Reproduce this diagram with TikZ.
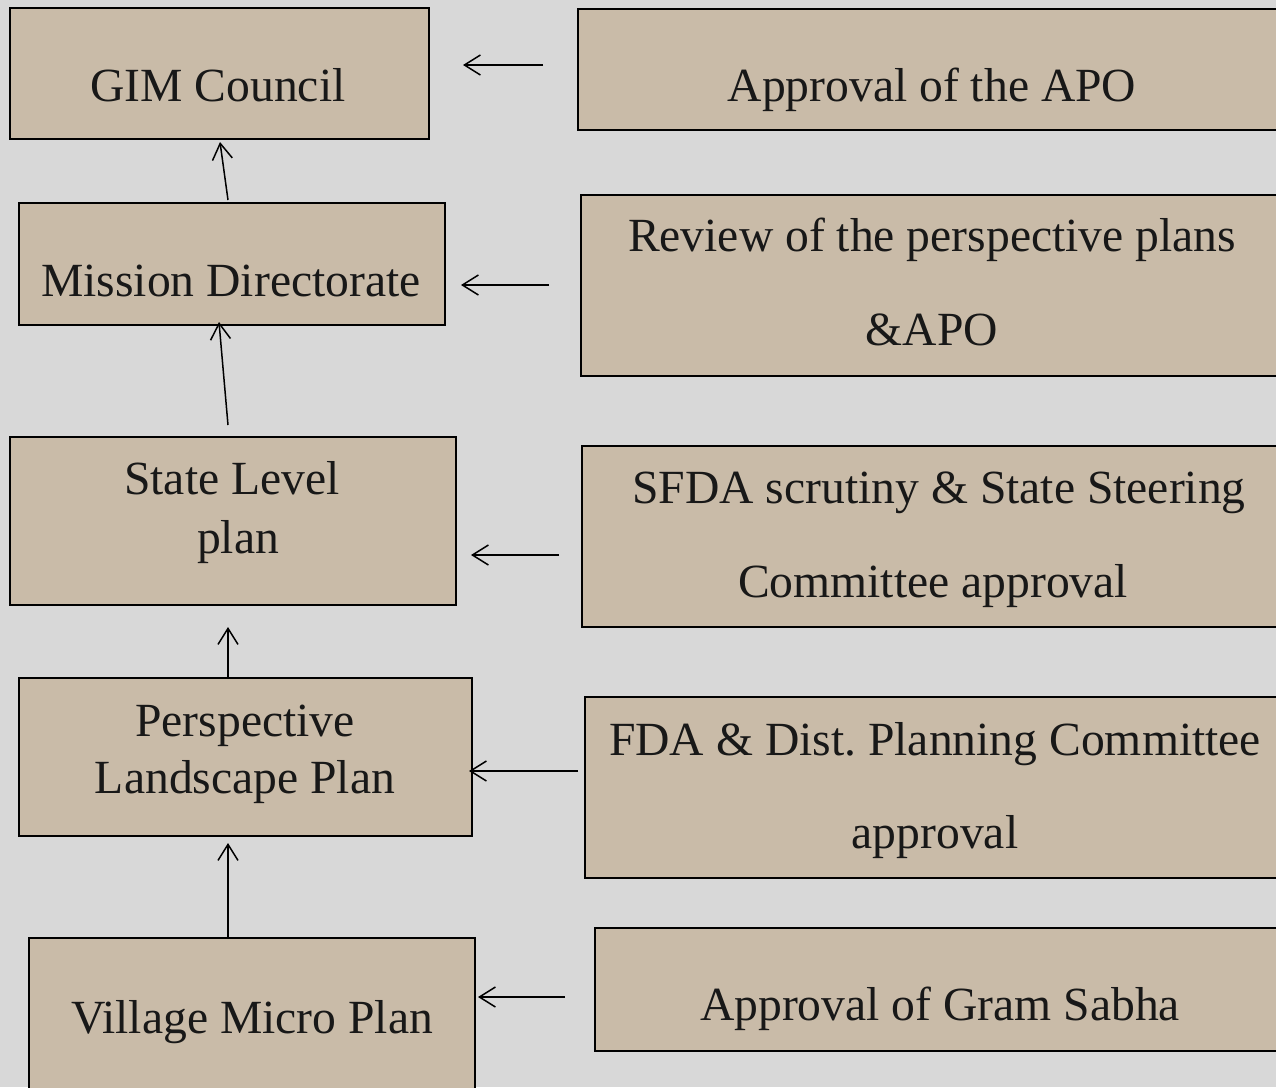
\documentclass[tikz,border=0pt]{standalone}
\usepackage{fontspec}
\setmainfont{Liberation Serif}
\usetikzlibrary{arrows.meta}
\frenchspacing
\begin{document}
\begin{tikzpicture}[x=1pt,y=-1pt,
  box/.style={draw=black,line width=1.5pt,fill=boxfill},
  lbl/.style={anchor=base,inner sep=0pt,font=\fontsize{47.6}{58}\selectfont,text=txt},
  arr/.style={-{Straight Barb[length=16pt,width=20pt,line width=1.5pt]},line width=1.5pt}]
\definecolor{bg}{HTML}{D8D8D8}
\definecolor{boxfill}{HTML}{C9BBA8}
\definecolor{txt}{HTML}{181818}
\useasboundingbox (0,0) rectangle (1276,1087);
\clip (0,0) rectangle (1276,1087);
\fill[bg] (0,0) rectangle (1276,1087);
% left boxes
\draw[box] (10,8) rectangle (429,139);
\draw[box] (19,203) rectangle (445,325);
\draw[box] (10,437) rectangle (456,605);
\draw[box] (19,678) rectangle (472,836);
\draw[box] (29,938) rectangle (475,1100);
% right boxes
\draw[box] (578,9) rectangle (1290,130);
\draw[box] (581,195) rectangle (1290,376);
\draw[box] (582,446) rectangle (1290,627);
\draw[box] (585,697) rectangle (1290,878);
\draw[box] (595,928) rectangle (1290,1051);
% texts
\node[lbl] (gim) at (218,101) {GIM Council};
\node[lbl] (md) at (231,296) {Mission Directorate};
\node[lbl] (sl1) at (232,494) {State Level};
\node[lbl] (sl2) at (238,553) {plan};
\node[lbl] (pl1) at (245,736) {Perspective};
\node[lbl] (pl2) at (245,793) {Landscape Plan};
\node[lbl] (vm) at (252,1033) {Village Micro Plan};
\node[lbl] (apo) at (932,101) {Approval of the APO};
\node[lbl] (rv1) at (932,251) {Review of the perspective plans};
\node[lbl] (rv2) at (932,345) {\&APO};
\node[lbl] (sf1) at (939,503) {SFDA scrutiny \& State Steering};
\node[lbl] (sf2) at (933,597) {Committee approval};
\node[lbl] (fd1) at (935,755) {FDA \& Dist. Planning Committee};
\node[lbl] (fd2) at (935,848) {approval};
\node[lbl] (gs) at (940,1020) {Approval of Gram Sabha};
% arrow end points
\coordinate (h1a) at (543,65);  \coordinate (h1b) at (463,65);
\coordinate (h2a) at (549,285); \coordinate (h2b) at (461,285);
\coordinate (h3a) at (559,555); \coordinate (h3b) at (471,555);
\coordinate (h4a) at (578,771); \coordinate (h4b) at (469,771);
\coordinate (h5a) at (565,997); \coordinate (h5b) at (478,997);
\coordinate (v1a) at (228,200); \coordinate (v1b) at (220,142);
\coordinate (v2a) at (228,425); \coordinate (v2b) at (219,322);
\coordinate (v3a) at (228,678); \coordinate (v3b) at (228,627);
\coordinate (v4a) at (228,938); \coordinate (v4b) at (228,843);
\foreach \s in {h1,h2,h3,h4,h5,v1,v2,v3,v4}
  \draw[arr] (\s a) -- (\s b);
\end{tikzpicture}
\end{document}
